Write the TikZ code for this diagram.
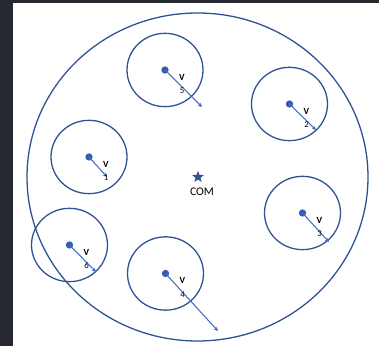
\documentclass[tikz,border=0pt]{standalone}
\usepackage{fontspec}
\setmainfont{Carlito}
\usetikzlibrary{arrows.meta,shapes.geometric,calc}
\definecolor{ringblue}{RGB}{47,82,148}
\definecolor{dotblue}{RGB}{52,92,178}
\definecolor{arrowblue}{RGB}{68,110,192}
\definecolor{framegray}{RGB}{37,40,46}

\begin{document}
\begin{tikzpicture}[x=0.03cm, y=-0.03cm,
  ring/.style={ellipse, draw=ringblue, line width=1.1pt, minimum width=2.28cm, minimum height=2.2cm, inner sep=0pt},
  bigring/.style={ellipse, draw=ringblue, line width=1.1pt, minimum width=10.23cm, minimum height=9.84cm, inner sep=0pt},
  body/.style={circle, fill=dotblue, minimum size=0.22cm, inner sep=0pt},
  vel/.style={draw=arrowblue, line width=0.9pt, -{Stealth[length=3.5pt, width=3.5pt]}},
  vlabel/.style={font=\fontsize{8}{9}\selectfont\bfseries, inner sep=0pt},
  nlabel/.style={font=\fontsize{7.5}{8}\selectfont, inner sep=0pt},
  >=Stealth
]
\useasboundingbox (0,0) rectangle (379,346);
\fill[framegray] (0,0) rectangle (379,346);
\fill[white] (13,3) rectangle (379,346);

% the whole system
\node[bigring] (sys) at (197.5,177) {};
\node[star, star points=5, star point ratio=2.4, fill=ringblue, minimum size=0.37cm, inner sep=0pt] (com) at (198,177) {};
\node[font=\fontsize{10}{11}\selectfont, inner sep=0pt] (comlbl) at (202,192) {COM};

% sub-bodies: n / centre / arrow end / label
\foreach \n/\cx/\cy/\ex/\ey in {5/165/70/202/107, 2/289.5/104/316/130, 1/89/157/107/177, 3/302.5/213/329/242, 6/69.5/245/96/272, 4/165.5/273.5/218/331} {
  \node[ring] (c\n) at (\cx,\cy) {};
  \node[body] (d\n) at (\cx,\cy) {};
  \coordinate (e\n) at (\ex,\ey);
  \draw[vel] (d\n.center) -- (e\n);
  \node[vlabel] (v\n) at ($(\cx,\cy)+(17,7)$) {V};
  \node[nlabel] (n\n) at ($(\cx,\cy)+(17,21)$) {\n};
}
\end{tikzpicture}
\end{document}
